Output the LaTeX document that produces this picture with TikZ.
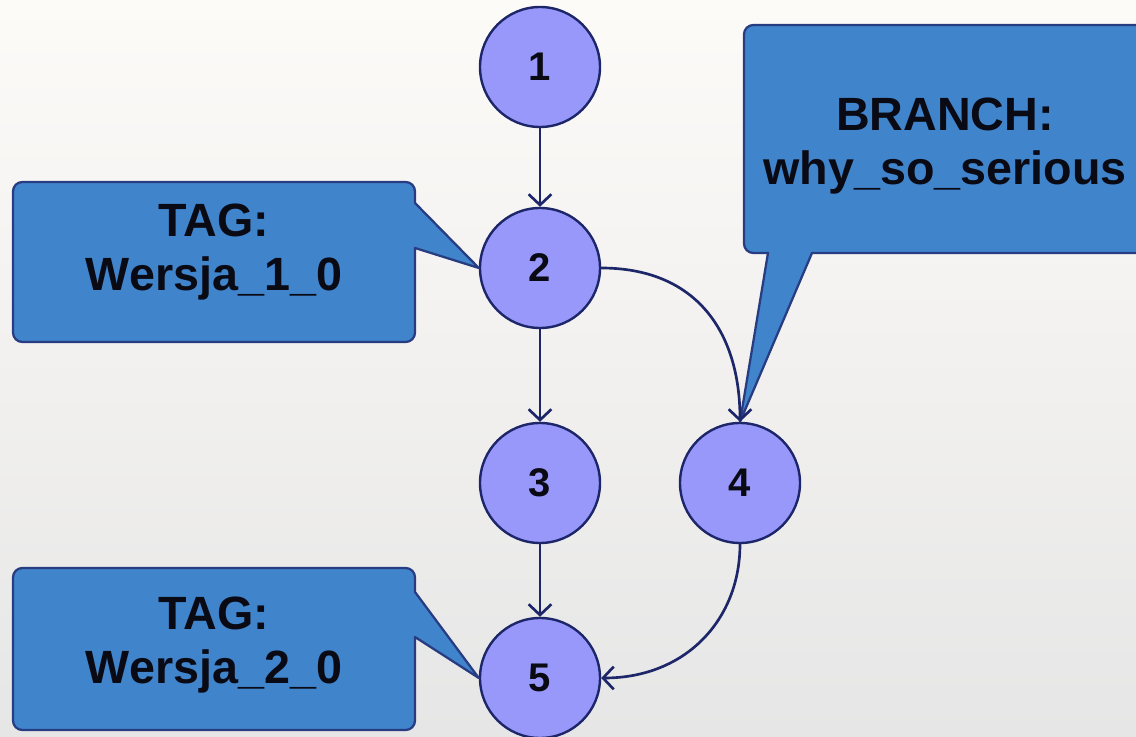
\documentclass[tikz,border=0pt]{standalone}
\usepackage{fontspec}
\setmainfont{Liberation Sans}
\usetikzlibrary{arrows.meta}

\definecolor{nodefill}{RGB}{152,152,250}
\definecolor{navy}{RGB}{28,38,105}
\definecolor{tagfill}{RGB}{64,132,204}
\definecolor{tagline}{RGB}{40,60,130}
\definecolor{ink}{RGB}{10,10,20}
\definecolor{bgtop}{RGB}{253,251,248}
\definecolor{bgbottom}{RGB}{230,230,230}

\begin{document}
\begin{tikzpicture}[x=0.75pt,y=-0.75pt,
  commit/.style={circle, draw=navy, line width=1.8pt, fill=nodefill,
    minimum size=90pt, inner sep=0pt,
    font=\fontsize{30}{32}\selectfont\bfseries, text=ink},
  link/.style={draw=navy, line width=2pt,
    -{Straight Barb[length=8pt,width=17pt]}},
  callout/.style={fill=tagfill, draw=tagline, line width=1.7pt, line join=round},
  taglabel/.style={align=center, inner sep=0pt, text=ink,
    font=\fontsize{35}{41}\selectfont\bfseries}
]
% page and background
\useasboundingbox (0,0) rectangle (1136,737);
\fill[top color=bgtop, bottom color=bgbottom] (0,0) rectangle (1136,737);

% commits
\node[commit] (c1) at (540,67) {1};
\node[commit] (c2) at (540,268) {2};
\node[commit] (c3) at (540,483) {3};
\node[commit] (c4) at (740,483) {4};
\node[commit] (c5) at (540,678) {5};

% callouts: rounded boxes with sharp pointer joints
\draw[callout] (13,262) [rounded corners=7pt] -- (13,182) -- (415,182)
  [sharp corners] -- (415,203) -- (c2.west) -- (415,248)
  [rounded corners=7pt] -- (415,342) -- (13,342) -- cycle;
\draw[callout] (13,649) [rounded corners=7pt] -- (13,568) -- (415,568)
  [sharp corners] -- (415,592) -- (c5.west) -- (415,637)
  [rounded corners=7pt] -- (415,730) -- (13,730) -- cycle;
\draw[callout] (744,140) [rounded corners=7pt] -- (744,25) -- (1145,25) -- (1145,253)
  [sharp corners] -- (812,253) -- (c4.north) -- (768,253)
  [rounded corners=7pt] -- (744,253) -- cycle;

\node[taglabel] (t1) at (214,252) {TAG:\\Wersja\_1\_0};
\node[taglabel] (t2) at (214,645) {TAG:\\Wersja\_2\_0};
\node[taglabel] (t3) at (945,146) {BRANCH:\\why\_so\_serious};

% history
\draw[link] (c1) -- (c2);
\draw[link] (c2) -- (c3);
\draw[link] (c3) -- (c5);
\draw[link] (c2.east) .. controls +(95,0) and +(0,-90) .. (c4.north);
\draw[link] (c4.south) .. controls +(0,75) and +(85,0) .. (c5.east);
\end{tikzpicture}
\end{document}
